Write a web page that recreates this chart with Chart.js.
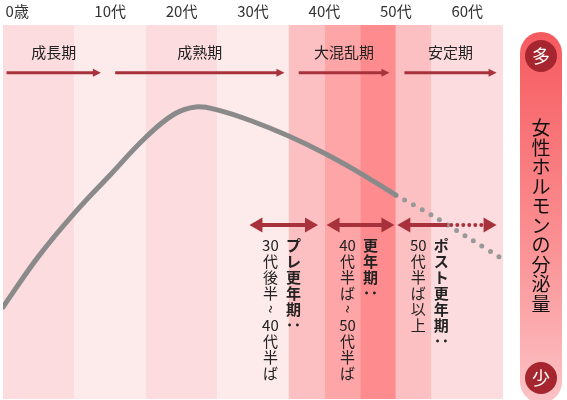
<!DOCTYPE html>
<html>
<head>
<meta charset="utf-8">
<script src="https://cdn.jsdelivr.net/npm/chart.js@4.4.1/dist/chart.umd.min.js"></script>
<style>
  body { margin: 0; background: #fff; }
  #contenedor { width: 567px; height: 400px; }
</style>
</head>
<body>
<div id="contenedor"><canvas id="grafico"></canvas></div>
<script>
// curva de la hormona (edad -> cantidad relativa)
const ages = [0, 5, 10, 15, 20, 24, 27, 30, 35, 40, 45, 50, 55];
const hormone = [24.6, 38.2, 49.7, 59.9, 70, 76.2, 78.1, 77.3, 74.2, 70.3, 65.7, 60.4, 54.5];
// tramo punteado (proyección)
const agesLater = [55, 60, 65, 69.8];
const hormoneLater = [54.5, 49.2, 43.3, 37.6];

// etiquetas del eje superior
const tickAges = [2, 15, 25, 35, 45, 55, 65];
const tickLabels = ["0歳", "10代", "20代", "30代", "40代", "50代", "60代"];

// franjas de fondo
const bandEdges = [0, 10, 20, 30, 40, 45, 50, 55, 60, 70];
const bandColors = ["#fcdcdf", "#fdeaea", "#fcdcdf", "#fdeaea", "#fcc0c2", "#fea5a8", "#fe8c8f", "#fcc0c2", "#fcdcdf"];

// etapas de la vida (flechas superiores)
const periods = ["成長期", "成熟期", "大混乱期", "安定期"];
const periodFrom = [0.5, 15.7, 41.4, 56.2];
const periodTo = [13.7, 39.4, 54.1, 69.1];

// etapas del climaterio (flechas dobles)
const stageNames = ["プレ更年期：", "更年期：", "ポスト更年期："];
const stageRanges = ["30代後半~40代半ば", "40代半ば~50代半ば", "50代半ば以上"];
const stageFrom = [34.5, 45.3, 55.2];
const stageSolidTo = [44.1, 54.8, 62.2];
const stageTo = [44.1, 54.8, 69.1];

const RED = "#a8323c";
const JP = "'Noto Sans CJK JP', 'Noto Sans', sans-serif";

function arrowHead(ctx, tipX, y, dir, len, half) {
  ctx.beginPath();
  ctx.moveTo(tipX, y);
  ctx.lineTo(tipX - dir * len, y - half);
  ctx.lineTo(tipX - dir * len, y + half);
  ctx.closePath();
  ctx.fill();
}

// texto vertical: los números van juntos, "~" y "：" se giran
function drawVertical(ctx, text, x, y, step) {
  const units = text.match(/\d+|./g);
  units.forEach((u, i) => {
    const cy = y + i * step;
    if (u === "~" || u === "：") {
      ctx.save();
      ctx.translate(x, cy);
      ctx.rotate(Math.PI / 2);
      ctx.fillText(u, 0, 0);
      ctx.restore();
    } else {
      ctx.fillText(u, x, cy);
    }
  });
}

const fondo = {
  id: "fondo",
  beforeDatasetsDraw(chart) {
    const { ctx, chartArea, scales: { x } } = chart;
    ctx.save();
    for (let i = 0; i < bandColors.length; i++) {
      const x0 = x.getPixelForValue(bandEdges[i]);
      const x1 = x.getPixelForValue(bandEdges[i + 1]);
      ctx.fillStyle = bandColors[i];
      ctx.fillRect(x0, chartArea.top, x1 - x0, chartArea.bottom - chartArea.top);
    }
    ctx.restore();
  }
};

const anotaciones = {
  id: "anotaciones",
  afterDatasetsDraw(chart) {
    const { ctx, scales: { x, y } } = chart;
    ctx.save();
    ctx.fillStyle = RED;
    ctx.strokeStyle = RED;

    // flechas superiores y nombres de etapas
    const ya = y.getPixelForValue(87.2);
    const yl = y.getPixelForValue(92.8);
    periods.forEach((p, i) => {
      const a = x.getPixelForValue(periodFrom[i]);
      const b = x.getPixelForValue(periodTo[i]);
      ctx.lineWidth = 3;
      ctx.beginPath();
      ctx.moveTo(a, ya);
      ctx.lineTo(b - 6, ya);
      ctx.stroke();
      arrowHead(ctx, b, ya, 1, 8, 4);
      ctx.fillStyle = "#222";
      ctx.font = "15px " + JP;
      ctx.textAlign = "center";
      ctx.textBaseline = "middle";
      ctx.fillText(p, (a + b) / 2, yl);
      ctx.fillStyle = RED;
    });

    // flechas dobles
    const yb = y.getPixelForValue(46.5);
    stageNames.forEach((n, i) => {
      const a = x.getPixelForValue(stageFrom[i]);
      const s = x.getPixelForValue(stageSolidTo[i]);
      const b = x.getPixelForValue(stageTo[i]);
      ctx.lineWidth = 4;
      ctx.lineCap = "butt";
      ctx.setLineDash([]);
      ctx.beginPath();
      ctx.moveTo(a + 8, yb);
      ctx.lineTo(Math.min(s, b - 8), yb);
      ctx.stroke();
      if (s < b) {
        ctx.lineCap = "round";
        ctx.setLineDash([0, 6]);
        ctx.beginPath();
        ctx.moveTo(s + 4, yb);
        ctx.lineTo(b - 12, yb);
        ctx.stroke();
        ctx.setLineDash([]);
      }
      arrowHead(ctx, a, yb, -1, 13, 7.5);
      arrowHead(ctx, b, yb, 1, 13, 7.5);

      const yt = yb + 20;
      ctx.textAlign = "center";
      ctx.textBaseline = "middle";
      ctx.fillStyle = "#222";
      ctx.font = "15px " + JP;
      drawVertical(ctx, stageRanges[i], a + 21, yt, 16);
      ctx.font = "bold 15px " + JP;
      drawVertical(ctx, n, a + 44, yt, 16);
      ctx.fillStyle = RED;
    });
    ctx.restore();
  },
  afterDraw(chart) {
    // barra lateral "女性ホルモンの分泌量"
    const { ctx, chartArea } = chart;
    const left = chartArea.right + 17, w = 42, top = 32, bottom = 403;
    const cx = left + w / 2;
    ctx.save();
    const g = ctx.createLinearGradient(0, top, 0, bottom);
    g.addColorStop(0, "#f65a5f");
    g.addColorStop(0.55, "#fb8e91");
    g.addColorStop(1, "#fcc3c6");
    ctx.fillStyle = g;
    ctx.beginPath();
    ctx.roundRect(left, top, w, bottom - top, w / 2);
    ctx.fill();

    ctx.fillStyle = "#a5262f";
    [56, 378].forEach(cy => {
      ctx.beginPath();
      ctx.arc(cx, cy, 16, 0, Math.PI * 2);
      ctx.fill();
    });
    ctx.fillStyle = "#fff";
    ctx.font = "18px " + JP;
    ctx.textAlign = "center";
    ctx.textBaseline = "middle";
    ctx.fillText("多", cx, 56);
    ctx.fillText("少", cx, 378);

    ctx.fillStyle = "#111";
    ctx.font = "19px " + JP;
    drawVertical(ctx, "女性ホルモンの分泌量", cx, 128, 19.5);
    ctx.restore();
  }
};

const ctx = document.getElementById("grafico").getContext("2d");
new Chart(ctx, {
  type: "line",
  data: {
    datasets: [
      {
        data: ages.map((a, i) => ({ x: a, y: hormone[i] })),
        borderColor: "#8a8a8a",
        borderWidth: 5,
        tension: 0.4,
        pointRadius: 0,
        borderCapStyle: "round"
      },
      {
        data: agesLater.map((a, i) => ({ x: a, y: hormoneLater[i] })),
        borderColor: "#999",
        borderWidth: 5,
        borderDash: [0, 10],
        borderCapStyle: "round",
        tension: 0.2,
        pointRadius: 0
      }
    ]
  },
  options: {
    responsive: true,
    maintainAspectRatio: false,
    animation: false,
    layout: { padding: { left: 3, right: 64, top: 0, bottom: 1 } },
    plugins: { legend: { display: false }, tooltip: { enabled: false } },
    scales: {
      x: {
        type: "linear",
        position: "top",
        min: 0,
        max: 70,
        grid: { display: false, drawTicks: false },
        border: { display: false },
        afterFit: s => { s.height = 25; },
        afterBuildTicks: s => { s.ticks = tickAges.map(v => ({ value: v })); },
        ticks: {
          autoSkip: false,
          maxRotation: 0,
          padding: 5,
          color: "#333",
          font: { size: 15, family: JP },
          callback: v => tickLabels[tickAges.indexOf(v)]
        }
      },
      y: { display: false, min: 0, max: 100 }
    }
  },
  plugins: [fondo, anotaciones]
});
</script>
</body>
</html>
